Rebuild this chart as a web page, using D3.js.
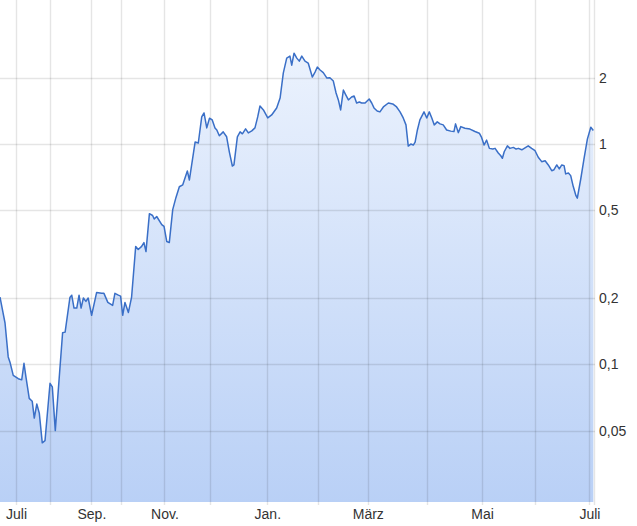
<!DOCTYPE html>
<html><head><meta charset="utf-8">
<script src="https://cdn.jsdelivr.net/npm/d3@7"></script>
<style>body{margin:0;background:#fff}svg{display:block}text{font-family:"Liberation Sans",Arial,sans-serif}</style>
</head><body><svg id="c" width="637" height="526"></svg>
<script>
// trading-day index (x) and price (y)
const dayIdx = [0,2.2,3.6,4.4,5.8,8.0,9.5,10.5,11.4,12.8,14.1,15.0,16.1,17.2,18.5,19.7,21.9,22.9,24.2,25.5,27.4,28.5,30.6,31.4,32.4,33.6,34.6,35.5,36.5,37.6,38.6,40.1,42.3,44.5,45.5,47.2,49.3,50.3,51.8,52.8,53.7,54.7,56.2,57.6,59.4,60.5,62.0,63.0,63.9,65.4,66.8,67.5,68.6,70.8,71.8,73.0,74.1,75.6,77.0,78.5,80.0,82.0,82.9,85.4,86.8,88.3,89.3,90.5,91.7,92.9,94.1,94.9,96.0,97.7,99.2,100.4,101.7,102.4,103.9,105.1,106.1,107.5,108.7,110.2,111.6,112.8,113.8,115.3,117.2,118.9,121.1,122.6,124.0,125.5,126.9,127.7,128.7,129.9,131.0,132.1,133.5,134.9,136.7,137.9,138.9,140.1,141.5,143.1,144.4,145.9,147.1,148.1,149.1,150.3,151.4,152.5,153.9,155.0,156.1,157.3,158.3,159.8,161.6,162.7,163.7,165.1,166.3,167.8,170.0,171.9,173.6,175.1,176.5,177.7,178.7,179.8,180.9,181.7,182.7,183.8,185.6,186.8,187.9,189.0,190.1,191.4,192.6,194.0,195.5,197.3,198.7,199.4,200.6,201.7,203.5,205.7,207.9,209.8,210.8,211.9,213.0,214.2,215.7,216.7,218.1,219.2,219.9,220.7,222.1,223.2,224.7,225.9,226.9,228.4,229.8,231.2,232.7,234.2,235.6,237.1,238.6,240.0,241.5,242.5,243.7,244.8,245.9,246.9,247.6,248.8,249.8,250.9,252.1,252.7,254.2,255.6,257.1,258.6,259.7];
const price = [0.202,0.154,0.108,0.102,0.089,0.086,0.085,0.101,0.087,0.070,0.068,0.057,0.066,0.060,0.044,0.045,0.082,0.079,0.050,0.076,0.139,0.140,0.201,0.206,0.180,0.180,0.206,0.180,0.200,0.193,0.200,0.167,0.212,0.210,0.210,0.191,0.185,0.210,0.206,0.204,0.167,0.191,0.172,0.202,0.343,0.332,0.343,0.357,0.325,0.483,0.474,0.457,0.469,0.431,0.423,0.361,0.357,0.504,0.571,0.640,0.653,0.755,0.687,1.021,1.011,1.328,1.385,1.184,1.31,1.287,1.184,1.159,1.09,1.136,1.079,0.92,0.795,0.804,1.079,1.136,1.113,1.172,1.124,1.148,1.184,1.328,1.489,1.429,1.314,1.356,1.459,1.618,2.10,2.456,2.508,2.282,2.586,2.456,2.38,2.508,2.38,2.332,2.015,2.122,2.237,2.17,2.11,1.994,2.0,1.932,1.705,1.586,1.429,1.759,1.669,1.586,1.635,1.653,1.536,1.553,1.536,1.536,1.602,1.536,1.459,1.413,1.40,1.474,1.536,1.521,1.474,1.40,1.314,1.222,0.979,1.0,0.99,1.021,1.159,1.287,1.40,1.314,1.40,1.314,1.222,1.261,1.235,1.222,1.159,1.145,1.14,1.235,1.127,1.2,1.18,1.17,1.14,1.12,1.072,0.99,1.042,0.956,0.949,0.956,0.911,0.885,0.862,0.923,0.982,0.956,0.966,0.949,0.956,0.942,0.962,0.982,0.956,0.933,0.871,0.832,0.840,0.804,0.757,0.765,0.804,0.771,0.804,0.798,0.732,0.739,0.719,0.643,0.583,0.568,0.694,0.855,1.053,1.193,1.152];
const monthGridDays = [7,22,40,53,72,92,117,139,161,187,211,234,258,260];
const labelDays = [7,40,72,117,161,211,258];
const labelTexts = ["Juli","Sep.","Nov.","Jan.","März","Mai","Juli"];
const yTicks = [0.05,0.1,0.2,0.5,1,2];
const yTickLabels = ["0,05","0,1","0,2","0,5","1","2"];

const W = 594, H = 502;
const svg = d3.select("#c");
const x = d3.scaleLinear().domain([0,260]).range([0,W]);
const y = d3.scaleLog().domain([0.0237,4.51]).range([H,0]);
const data = dayIdx.map((d,i)=>({d, v:price[i]}));

const defs = svg.append("defs");
const g = defs.append("linearGradient").attr("id","fillg")
  .attr("gradientUnits","userSpaceOnUse").attr("x1",0).attr("x2",0).attr("y1",0).attr("y2",H);
g.append("stop").attr("offset","0%").attr("stop-color","#f1f6fe");
g.append("stop").attr("offset","100%").attr("stop-color","#b9d0f6");

// area
svg.append("path").datum(data)
  .attr("d", d3.area().x(p=>x(p.d)).y0(H).y1(p=>y(p.v)))
  .attr("fill","url(#fillg)");

// grid (over fill, translucent)
svg.append("g").selectAll("line").data(monthGridDays).join("line")
  .attr("x1",d=>Math.round(x(d))+0.5).attr("x2",d=>Math.round(x(d))+0.5).attr("y1",0).attr("y2",H+3)
  .attr("stroke","#000").attr("stroke-opacity",0.1).attr("stroke-width",1.4);
svg.append("g").selectAll("line").data(yTicks).join("line")
  .attr("x1",0).attr("x2",W+1).attr("y1",d=>Math.round(y(d))+0.5).attr("y2",d=>Math.round(y(d))+0.5)
  .attr("stroke","#000").attr("stroke-opacity",0.1).attr("stroke-width",1.4);

// line
svg.append("path").datum(data)
  .attr("d", d3.line().x(p=>x(p.d)).y(p=>y(p.v)))
  .attr("fill","none").attr("stroke","#3a6fc7").attr("stroke-width",1.5).attr("stroke-linejoin","round");

// y labels
const ya = d3.axisRight(y).tickValues(yTicks).tickSize(0).tickPadding(0)
  .tickFormat((d,i)=>yTickLabels[i]);
const yg = svg.append("g").attr("transform",`translate(${W+5},0)`).call(ya);
yg.select(".domain").remove();
yg.selectAll("text").attr("font-size",14).attr("fill","#333").attr("font-family","'Liberation Sans',Arial,sans-serif");

// x labels
const xa = d3.axisBottom(x).tickValues(labelDays).tickSize(0).tickPadding(0)
  .tickFormat((d,i)=>labelTexts[i]);
const xg = svg.append("g").attr("transform",`translate(0,${H+7})`).call(xa);
xg.select(".domain").remove();
xg.selectAll("text").attr("font-size",14).attr("fill","#333").attr("font-family","'Liberation Sans',Arial,sans-serif");
</script></body></html>
